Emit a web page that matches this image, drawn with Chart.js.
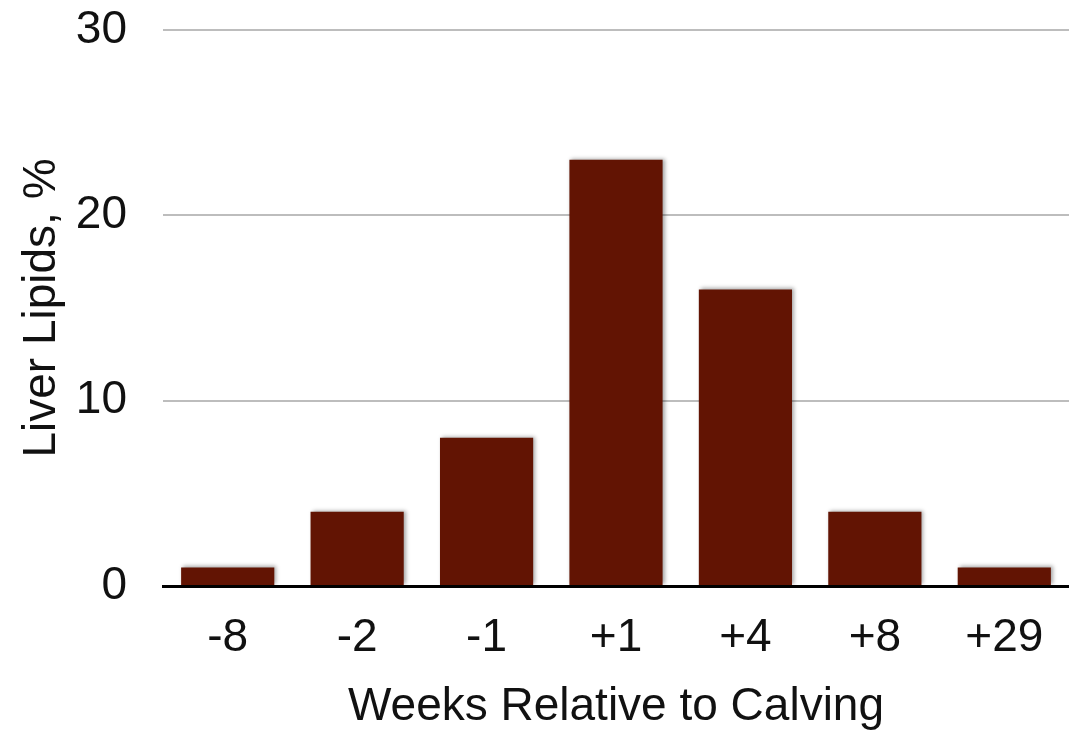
<!DOCTYPE html>
<html>
<head>
<meta charset="utf-8">
<script src="https://cdn.jsdelivr.net/npm/chart.js@4/dist/chart.umd.min.js"></script>
<style>
  html, body { margin: 0; padding: 0; background: #fff; }
  #c { display: block; }
</style>
</head>
<body>
<canvas id="c" width="1069" height="735"></canvas>
<script>
// Liver lipid content by week relative to calving
const weeks = ['-8', '-2', '-1', '+1', '+4', '+8', '+29'];
const liverLipids = [1, 4, 8, 23, 16, 4, 1];
const yTicks = [0, 10, 20, 30];

const FONT = '"Liberation Sans", Arial, Helvetica, sans-serif';

// soft drop shadow behind the bars
const barShadow = {
  id: 'barShadow',
  beforeDatasetsDraw(chart) {
    const ctx = chart.ctx;
    ctx.save();
    ctx.shadowColor = 'rgba(0,0,0,0.35)';
    ctx.shadowBlur = 4;
    ctx.shadowOffsetX = 2;
    ctx.shadowOffsetY = -1;
  },
  afterDatasetsDraw(chart) {
    chart.ctx.restore();
  }
};

new Chart(document.getElementById('c'), {
  type: 'bar',
  data: {
    labels: weeks,
    datasets: [{
      data: liverLipids,
      backgroundColor: '#621403',
      borderWidth: 0,
      barPercentage: 0.72,
      categoryPercentage: 1.0
    }]
  },
  options: {
    responsive: false,
    animation: false,
    layout: { padding: { top: 30, right: 0, bottom: 0, left: 0 } },
    plugins: {
      legend: { display: false },
      tooltip: { enabled: false }
    },
    scales: {
      x: {
        grid: { display: false },
        border: { display: true, color: '#000', width: 3 },
        ticks: {
          color: '#111',
          font: { family: FONT, size: 46, lineHeight: 1 },
          padding: 21,
          maxRotation: 0,
          autoSkip: false
        },
        title: {
          display: true,
          text: 'Weeks Relative to Calving',
          color: '#111',
          font: { family: FONT, size: 46, lineHeight: 1 },
          padding: { top: 0, bottom: 5 }
        },
        afterFit(scale) {
          scale.height = 149;
          scale.paddingLeft = 0;
          scale.paddingRight = 0;
        }
      },
      y: {
        min: 0,
        max: 30,
        afterBuildTicks(scale) {
          scale.ticks = yTicks.map(v => ({ value: v }));
        },
        grid: {
          drawTicks: false,
          lineWidth: 2,
          color: ctx => (ctx.tick && ctx.tick.value === 0) ? 'rgba(0,0,0,0)' : '#bdbdbd'
        },
        border: { display: false },
        ticks: {
          color: '#111',
          font: { family: FONT, size: 46, lineHeight: 1 },
          padding: 36
        },
        title: {
          display: true,
          text: 'Liver Lipids, %',
          color: '#111',
          font: { family: FONT, size: 46, lineHeight: 1 },
          padding: { top: 19, bottom: 0 }
        },
        afterFit(scale) {
          scale.width = 163;
          scale.paddingTop = 0;
          scale.paddingBottom = 0;
        }
      }
    }
  },
  plugins: [barShadow]
});
</script>
</body>
</html>
